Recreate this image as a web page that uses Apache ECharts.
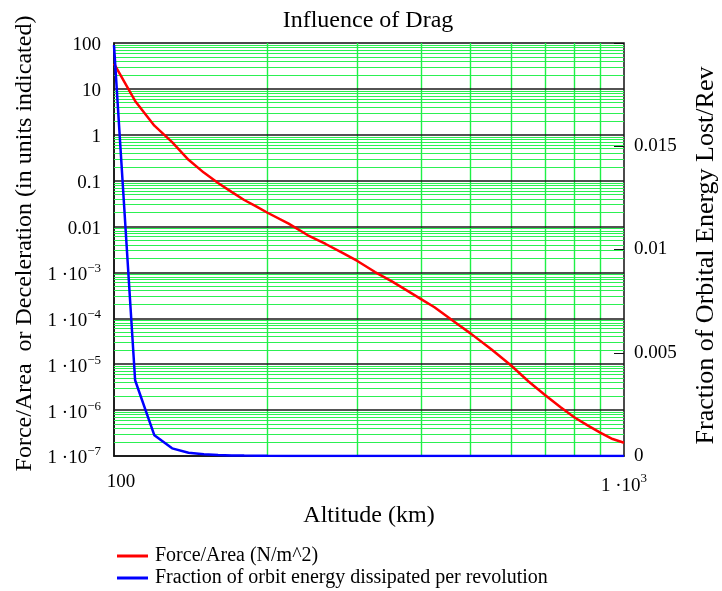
<!DOCTYPE html>
<html>
<head>
<meta charset="utf-8">
<script src="https://cdn.jsdelivr.net/npm/echarts@6/dist/echarts.min.js"></script>
<style>
html, body { margin: 0; padding: 0; background: #fff; }
#chart { width: 722px; height: 591px; }
</style>
</head>
<body>
<div id="chart"></div>
<script>
// Altitude samples (km)
const altitudes = [100, 110, 120, 130, 140, 150, 160, 170, 180, 190, 200,
  220, 240, 260, 280, 300, 325, 350, 375, 400, 425, 450, 475, 500,
  550, 600, 650, 700, 750, 800, 850, 900, 950, 1000];

// Drag force per unit area (N/m^2) - left, logarithmic axis
const forcePerArea = [35.5, 5.46, 1.58, 0.69, 0.285, 0.150, 0.0893, 0.0569, 0.0379, 0.0276, 0.0200,
  0.0116, 0.00645, 0.00417, 0.00269, 0.00178, 0.00102, 6.46e-4, 4.07e-4, 2.63e-4, 1.74e-4, 1.10e-4, 7.1e-5, 4.7e-5,
  2.09e-5, 9.5e-6, 4.2e-6, 2.14e-6, 1.17e-6, 6.9e-7, 4.6e-7, 3.2e-7, 2.34e-7, 1.95e-7];

// Fraction of orbital energy dissipated per revolution - right, linear axis
const energyFraction = [0.0199, 0.00367, 0.00100, 0.00037, 0.00016, 0.00008, 0.00005, 0.00003, 0.00002, 0.000015, 0.00001,
  6e-6, 4e-6, 2.5e-6, 1.6e-6, 1.1e-6, 7e-7, 4.5e-7, 2.8e-7, 1.8e-7, 1.2e-7, 8e-8, 5e-8, 3.3e-8,
  1.5e-8, 7e-9, 3e-9, 1.5e-9, 8e-10, 5e-10, 3e-10, 2.2e-10, 1.6e-10, 1.3e-10];

// Left axis tick labels, indexed by decade exponent + 7 (base text and superscript)
const leftTickBase = ['1 ·10', '1 ·10', '1 ·10', '1 ·10', '1 ·10', '0.01', '0.1', '1', '10', '100'];
const leftTickSup  = ['−7', '−6', '−5', '−4', '−3', '', '', '', '', ''];

// Bottom axis tick labels (100 and 1000)
const bottomTickBase = ['100', '1 ·10'];
const bottomTickSup  = ['', '3'];

// Right axis tick labels, one per 0.005 step
const rightTickLabels = ['0', '0.005', '0.01', '0.015', ''];

// Grid line positions
const yRange = [1e-7, 100];
const decadeExponents = [-7, -6, -5, -4, -3, -2, -1, 0, 1];
const minorMultipliers = [2, 3, 4, 5, 6, 7, 8, 9];
const majorDecades = [1e-6, 1e-5, 1e-4, 1e-3, 1e-2, 1e-1, 1, 10];
const altitudeMinor = [200, 300, 400, 500, 600, 700, 800, 900];

const FONT = '"Liberation Serif", "Times New Roman", serif';

const minorHorizontal = [];
decadeExponents.forEach(function (e) {
  minorMultipliers.forEach(function (m) {
    minorHorizontal.push({ yAxis: m * Math.pow(10, e) });
  });
});
const minorVertical = altitudeMinor.map(function (a) {
  return [{ coord: [a, yRange[0]] }, { coord: [a, yRange[1]] }];
});
const majorLines = majorDecades.map(function (v) { return { yAxis: v }; });

const forceData = altitudes.map(function (a, i) { return [a, forcePerArea[i]]; });
const energyData = altitudes.map(function (a, i) { return [a, energyFraction[i]]; });

// Rich styles: base text, raised superscript, plain label
function labelRich(baseLH, extraPlain) {
  return {
    b: { fontFamily: FONT, fontSize: 19, color: '#000', lineHeight: baseLH },
    s: { fontFamily: FONT, fontSize: 13, color: '#000', lineHeight: 14, verticalAlign: 'top' },
    p: Object.assign({ fontFamily: FONT, fontSize: 19, color: '#000', lineHeight: 20 }, extraPlain || {})
  };
}

// Grid lines drawn as mark lines below the data curves
function gridLineSeries(name, z, style, lines) {
  return {
    name: name,
    type: 'line',
    data: [],
    z: z,
    silent: true,
    markLine: {
      z: z,
      silent: true,
      precision: 15,
      symbol: ['none', 'none'],
      label: { show: false },
      animation: false,
      lineStyle: style,
      emphasis: { disabled: true },
      data: lines
    }
  };
}

const chart = echarts.init(document.getElementById('chart'), null, { renderer: 'canvas' });

chart.setOption({
  animation: false,
  backgroundColor: '#fff',
  title: {
    text: 'Influence of Drag',
    left: 363,
    top: 4,
    textAlign: 'center',
    textStyle: { fontFamily: FONT, fontSize: 24, fontWeight: 'normal', color: '#000' }
  },
  legend: {
    orient: 'vertical',
    left: 117,
    top: 546,
    padding: 0,
    itemWidth: 31,
    itemHeight: 3,
    itemGap: 2,
    icon: 'rect',
    textStyle: { fontFamily: FONT, fontSize: 20, color: '#000', lineHeight: 20, padding: [0, 0, 0, 2] },
    data: ['Force/Area (N/m^2)', 'Fraction of orbit energy dissipated per revolution']
  },
  grid: {
    left: 114, right: 98, top: 43, bottom: 135,
    outerBoundsMode: 'none',
    containLabel: false,
    show: true,
    borderColor: '#111',
    borderWidth: 1.5,
    backgroundColor: 'transparent'
  },
  xAxis: {
    type: 'log',
    logBase: 10,
    min: 100,
    max: 1000,
    name: 'Altitude (km)',
    nameLocation: 'middle',
    nameGap: 48,
    nameTextStyle: { fontFamily: FONT, fontSize: 24, color: '#000' },
    axisLine: { show: true, lineStyle: { color: '#111', width: 1.5 } },
    axisTick: { show: false },
    splitLine: { show: false },
    axisLabel: {
      margin: 16,
      showMinLabel: true,
      showMaxLabel: true,
      formatter: function (v) {
        const i = Math.round(Math.log10(v)) - 2;
        if (i < 0 || i > 1) return '';
        return bottomTickSup[i] ? '{b|' + bottomTickBase[i] + '}{s|' + bottomTickSup[i] + '}' : '{p|' + bottomTickBase[i] + '}';
      },
      rich: labelRich(28, { padding: [0, 0, 0, 14] })
    }
  },
  yAxis: [{
    type: 'log',
    logBase: 10,
    min: yRange[0],
    max: yRange[1],
    splitNumber: 9,
    position: 'left',
    name: 'Force/Area  or Deceleration (in units indicated)',
    nameLocation: 'middle',
    nameRotate: 90,
    nameGap: 77,
    nameTextStyle: { fontFamily: FONT, fontSize: 24, color: '#000', padding: [0, 0, 0, 12] },
    axisLine: { show: true, lineStyle: { color: '#111', width: 1.5 } },
    axisTick: { show: false },
    splitLine: { show: false },
    axisLabel: {
      margin: 13,
      padding: [5, 0, 0, 0],
      showMinLabel: true,
      showMaxLabel: true,
      formatter: function (v) {
        const i = Math.round(Math.log10(v)) + 7;
        if (i < 0 || i > 9) return '';
        return leftTickSup[i] ? '{b|' + leftTickBase[i] + '}{s|' + leftTickSup[i] + '}' : '{p|' + leftTickBase[i] + '}';
      },
      rich: labelRich(26)
    }
  }, {
    type: 'value',
    min: 0,
    max: 0.02,
    interval: 0.005,
    position: 'right',
    name: 'Fraction of Orbital Energy Lost/Rev',
    nameLocation: 'middle',
    nameRotate: 90,
    nameGap: 69,
    nameTextStyle: { fontFamily: FONT, fontSize: 26, color: '#000', padding: [0, 12, 0, 0] },
    axisLine: { show: false },
    axisTick: { show: true, inside: true, length: 10, lineStyle: { color: '#111', width: 1 } },
    splitLine: { show: false },
    axisLabel: {
      margin: 10,
      fontFamily: FONT,
      fontSize: 19,
      color: '#000',
      formatter: function (v) {
        const i = Math.round(v / 0.005);
        return rightTickLabels[i] || '';
      }
    }
  }],
  series: [
    gridLineSeries('minor horizontal grid', 1, { color: '#2cf052', width: 1.2, type: 'solid' }, minorHorizontal),
    gridLineSeries('minor vertical grid', 1, { color: '#1ef046', width: 1.4, type: 'solid' }, minorVertical),
    gridLineSeries('major grid', 2, { color: '#1a1a1a', width: 1.5, type: 'solid' }, majorLines),
    {
      name: 'Force/Area (N/m^2)',
      type: 'line',
      data: forceData,
      z: 4,
      showSymbol: false,
      color: '#ff0000',
      lineStyle: { color: '#ff0000', width: 2.5 }
    }, {
      name: 'Fraction of orbit energy dissipated per revolution',
      type: 'line',
      yAxisIndex: 1,
      data: energyData,
      z: 4,
      showSymbol: false,
      color: '#0000ff',
      lineStyle: { color: '#0000ff', width: 2.5 }
    }
  ]
});
</script>
</body>
</html>
